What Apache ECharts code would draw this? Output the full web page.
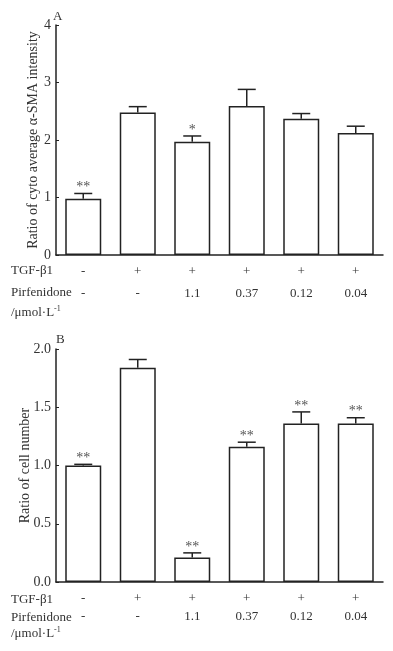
<!DOCTYPE html>
<html><head><meta charset="utf-8">
<script src="https://cdn.jsdelivr.net/npm/echarts@6/dist/echarts.min.js"></script>
<style>html,body{margin:0;padding:0;background:#fff}#c{width:393px;height:651px}</style>
</head><body><div id="c"></div>
<script>
var tgf = ['-', '+', '+', '+', '+', '+'];
var pirf = ['-', '-', '1.1', '0.37', '0.12', '0.04'];
var categories = ['Control', 'TGF', 'P1.1', 'P0.37', 'P0.12', 'P0.04'];
var smaMean = [0.98, 2.48, 1.97, 2.59, 2.37, 2.12];
var smaErr = [0.09, 0.10, 0.10, 0.29, 0.09, 0.12];
var smaSig = ['**', '', '*', '', '', ''];
var cellMean = [1.00, 1.84, 0.21, 1.16, 1.36, 1.36];
var cellErr = [0.01, 0.07, 0.04, 0.04, 0.10, 0.05];
var cellSig = ['**', '', '**', '**', '**', '**'];
var ticksA = [0, 1, 2, 3, 4];
var ticksB = [0, 0.5, 1.0, 1.5, 2.0];

var FONT = '"Liberation Serif", "DejaVu Serif", serif';
var chart = echarts.init(document.getElementById('c'));

function errSeries(idx, mean, err, sig) {
  return {
    type: 'custom', xAxisIndex: idx, yAxisIndex: idx, z: 5,
    data: mean.map(function (m, i) { return [i, m, m + err[i], sig[i]]; }),
    renderItem: function (params, api) {
      var x = api.value(0);
      var p0 = api.coord([x, api.value(1)]);
      var p1 = api.coord([x, api.value(2)]);
      var hw = 9;
      var st = { stroke: '#222', lineWidth: 1.5 };
      return {
        type: 'group', children: [
          { type: 'line', shape: { x1: p0[0], y1: p0[1], x2: p1[0], y2: p1[1] }, style: st },
          { type: 'line', shape: { x1: p1[0] - hw, y1: p1[1], x2: p1[0] + hw, y2: p1[1] }, style: st },
          { type: 'text', style: { text: api.value(3) || '', x: p1[0], y: p1[1] + 1, align: 'center', verticalAlign: 'bottom', font: '14px ' + FONT, fill: '#555' } }
        ]
      };
    }
  };
}

function xAx(idx, margin, lh) {
  return {
    type: 'category', gridIndex: idx, data: categories,
    axisLine: { lineStyle: { color: '#222', width: 1.5 } },
    axisTick: { show: false },
    axisLabel: {
      margin: margin, lineHeight: lh, color: '#333', fontFamily: FONT, fontSize: 13,
      formatter: function (v, i) { return tgf[i] + '\n' + pirf[i]; }
    }
  };
}
function yAx(idx, max, interval, ticks, name, gap, dec) {
  return {
    type: 'value', gridIndex: idx, min: ticks[0], max: max, interval: interval,
    name: name, nameLocation: 'middle', nameGap: gap, nameMoveOverlap: false,
    nameTextStyle: { fontFamily: FONT, fontSize: 14, color: '#333' },
    axisLine: { show: true, lineStyle: { color: '#222', width: 1.5 } },
    axisTick: { show: true, inside: true, length: 3, lineStyle: { color: '#222' } },
    splitLine: { show: false },
    axisLabel: { color: '#333', fontFamily: FONT, fontSize: 14, margin: 5,
      formatter: function (v) { return dec ? v.toFixed(1) : String(v); } }
  };
}

var unitRich = {
  a: { fontFamily: FONT, fontSize: 13, fill: '#333' },
  s: { fontFamily: FONT, fontSize: 8, fill: '#333', verticalAlign: 'top', padding: [0, 0, 8, 0] }
};
function rowText(x, y, t) {
  return { type: 'text', left: x, top: y, style: { text: t, font: '13px ' + FONT, fill: '#333' } };
}

chart.setOption({
  animation: false,
  grid: [
    { left: 56, right: 10, top: 25, bottom: 396 },
    { left: 56, right: 10, top: 349, bottom: 69 }
  ],
  xAxis: [xAx(0, 6, 22), xAx(1, 8, 18)],
  yAxis: [
    yAx(0, 4, 1, ticksA, 'Ratio of cyto average α-SMA intensity', 16, false),
    yAx(1, 2, 0.5, ticksB, 'Ratio of cell number', 24, true)
  ],
  series: [
    { type: 'bar', xAxisIndex: 0, yAxisIndex: 0, data: smaMean, barWidth: 36,
      itemStyle: { color: '#fff', borderColor: '#222', borderWidth: 1.5 } },
    errSeries(0, smaMean, smaErr, smaSig),
    { type: 'bar', xAxisIndex: 1, yAxisIndex: 1, data: cellMean, barWidth: 36,
      itemStyle: { color: '#fff', borderColor: '#222', borderWidth: 1.5 } },
    errSeries(1, cellMean, cellErr, cellSig)
  ],
  graphic: [
    { type: 'text', left: 53, top: 10, style: { text: 'A', font: '13px ' + FONT, fill: '#333' } },
    { type: 'text', left: 56, top: 333, style: { text: 'B', font: '13px ' + FONT, fill: '#333' } },
    rowText(11, 264, 'TGF-β1'),
    rowText(11, 286, 'Pirfenidone'),
    { type: 'text', left: 11, top: 305, style: { text: '{a|/μmol·L}{s|-1}', rich: unitRich } },
    rowText(11, 593, 'TGF-β1'),
    rowText(11, 611, 'Pirfenidone'),
    { type: 'text', left: 11, top: 626, style: { text: '{a|/μmol·L}{s|-1}', rich: unitRich } }
  ]
});
</script></body></html>
